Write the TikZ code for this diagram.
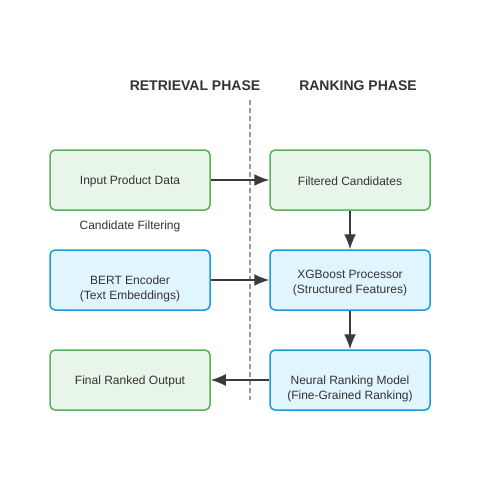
\documentclass[tikz,border=0pt]{standalone}
\usepackage{fontspec}
\setmainfont{Liberation Sans}
\usetikzlibrary{arrows.meta}
\definecolor{txtgray}{HTML}{333333}
\definecolor{greenfill}{HTML}{E8F5E9}
\definecolor{greenline}{HTML}{5CB05C}
\definecolor{bluefill}{HTML}{E1F5FE}
\definecolor{blueline}{HTML}{1E9AD6}
\definecolor{arrowgray}{HTML}{3A3A3A}
\tikzset{
  greenbox/.style={draw=greenline,fill=greenfill,line width=1.5pt,rounded corners=5pt,minimum width=160pt,minimum height=60pt},
  bluebox/.style={draw=blueline,fill=bluefill,line width=1.5pt,rounded corners=5pt,minimum width=160pt,minimum height=60pt},
  boxtext/.style={text=txtgray,font=\fontsize{12}{15}\selectfont,align=center,inner sep=0pt},
  flow/.style={draw=arrowgray,line width=1.5pt,-{Latex[length=15pt,width=12pt]}}
}
\begin{document}
\begin{tikzpicture}[x=1pt,y=-1pt]
      \useasboundingbox (0,0) rectangle (500,500);
      \node[font=\bfseries\fontsize{14}{16}\selectfont,text=txtgray] (retrieval) at (195,85.5) {RETRIEVAL PHASE};
      \node[font=\bfseries\fontsize{14}{16}\selectfont,text=txtgray] (ranking) at (358,85.5) {RANKING PHASE};
      \draw[gray!80,line width=1.5pt,dash pattern=on 5pt off 3pt] (250,100) -- (250,400);
      \node[greenbox] (input) at (130,180) {};
      \node[greenbox] (filtered) at (350,180) {};
      \node[bluebox] (bert) at (130,280) {};
      \node[bluebox] (xgb) at (350,280) {};
      \node[greenbox] (final) at (130,380) {};
      \node[bluebox] (neural) at (350,380) {};
      \node[boxtext] at (130,181) {Input Product Data};
      \node[boxtext] at (350,181) {Filtered Candidates};
      \node[boxtext] at (130,288.5) {BERT Encoder\\(Text Embeddings)};
      \node[boxtext] at (350,283.5) {XGBoost Processor\\(Structured Features)};
      \node[boxtext] at (130,381) {Final Ranked Output};
      \node[boxtext] at (350,388.5) {Neural Ranking Model\\(Fine-Grained Ranking)};
      \node[boxtext] (filtering) at (130,226) {Candidate Filtering};
      \draw[flow] (input) -- (filtered);
      \draw[flow] (bert) -- (xgb);
      \draw[flow] (filtered) -- (xgb);
      \draw[flow] (xgb) -- (neural);
      \draw[flow] (neural) -- (final);
\end{tikzpicture}
\end{document}
